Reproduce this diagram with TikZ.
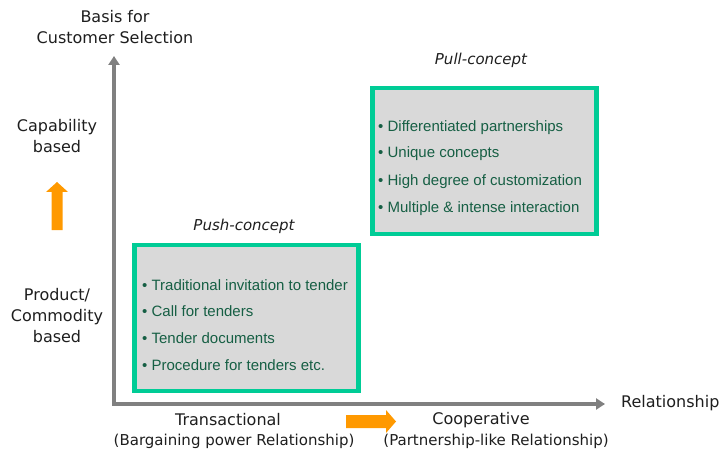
\documentclass[tikz,border=0pt]{standalone}
\usepackage{fontspec}
\setmainfont{DejaVu Sans}
\newfontfamily\bulletfont{Liberation Sans}
\usetikzlibrary{arrows.meta,shapes.arrows}
\definecolor{axisgray}{RGB}{128,128,128}
\definecolor{boxgreen}{RGB}{0,204,150}
\definecolor{boxfill}{RGB}{217,217,217}
\definecolor{bullettext}{RGB}{22,95,68}
\definecolor{labeltext}{RGB}{30,30,30}
\definecolor{orangearrow}{RGB}{255,153,0}
\begin{document}
\begin{tikzpicture}[x=1pt,y=-1pt,
  axis/.style={draw=axisgray,line width=4pt,-{Triangle[length=9pt,width=11pt]}},
  conceptbox/.style={draw=boxgreen,line width=4.5pt,fill=boxfill},
  lbl/.style={text=labeltext,font=\fontsize{16}{21}\selectfont,align=center,inner sep=0pt},
  sublbl/.style={text=labeltext,font=\fontsize{15}{18}\selectfont,align=center,inner sep=0pt},
  bul/.style={text=bullettext,font=\bulletfont\fontsize{15}{17}\selectfont,anchor=west,inner sep=0pt},
  title/.style={text=labeltext,font=\fontsize{15}{17}\selectfont\itshape,inner sep=0pt},
  fatarrow/.style={fill=orangearrow,draw=none}
]
\useasboundingbox (0,0) rectangle (727,454);
% boxes
\node[conceptbox,minimum width=224pt,minimum height=146pt,inner sep=0pt] (push) at (246.5,318) {};
\node[conceptbox,minimum width=224pt,minimum height=146pt,inner sep=0pt] (pull) at (484.5,161) {};
\node[title] (pusht) at (244,226) {Push-concept};
\node[title] (pullt) at (481,60) {Pull-concept};
% bullets
\node[bul] (b1) at (142,285) {• Traditional invitation to tender};
\node[bul] (b2) at (142,311) {• Call for tenders};
\node[bul] (b3) at (142,338) {• Tender documents};
\node[bul] (b4) at (142,365) {• Procedure for tenders etc.};
\node[bul] (c1) at (378,128) {• Differentiated partnerships};
\node[bul] (c2) at (378,154) {• Unique concepts};
\node[bul] (c3) at (378,182) {• High degree of customization};
\node[bul] (c4) at (378,209) {• Multiple \& intense interaction};
% axes
\coordinate (origin) at (112,404);
\coordinate (ytip) at (114,56);
\coordinate (xtip) at (605,404);
\draw[axis] (origin) -- (114,404) -- (ytip);
\draw[axis] (origin) -- (xtip);
% labels
\node[lbl] (ylab) at (115,27) {Basis for\\Customer Selection};
\node[lbl] (cap) at (57,136) {Capability\\based};
\node[lbl] (prod) at (57,316) {Product/\\Commodity\\based};
\node[lbl,anchor=west] (xlab) at (621,403) {Relationship};
\node[lbl] (trans) at (228,420) {Transactional};
\node[sublbl] (transsub) at (234,441) {(Bargaining power Relationship)};
\node[lbl] (coop) at (481,420) {Cooperative};
\node[sublbl] (coopsub) at (496,441) {(Partnership-like Relationship)};
% orange arrows
\fill[fatarrow] (51.5,230) -- (51.5,192) -- (46,192) -- (57,182) -- (68,192) -- (62.5,192) -- (62.5,230) -- cycle;
\fill[fatarrow] (346,415) -- (386,415) -- (386,410) -- (396,421.5) -- (386,433) -- (386,428) -- (346,428) -- cycle;
\end{tikzpicture}
\end{document}
